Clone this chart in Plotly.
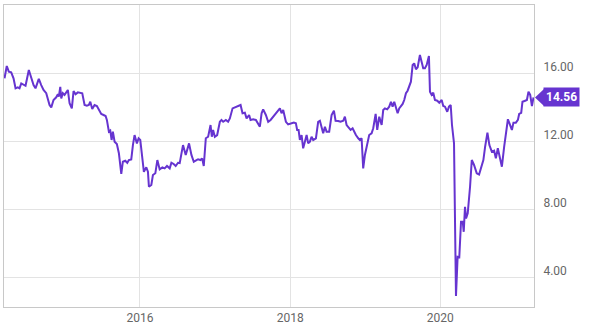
import plotly.graph_objects as go
from datetime import datetime, timedelta

# Decimal-year time stamps and values
years = [
    2014.196, 2014.226, 2014.253, 2014.285, 2014.316, 2014.343, 2014.373, 2014.396, 2014.419, 2014.449,
    2014.476, 2014.520, 2014.552, 2014.583, 2014.609, 2014.653, 2014.685, 2014.716, 2014.752, 2014.773,
    2014.796, 2014.819, 2014.849, 2014.885, 2014.907, 2014.920, 2014.939, 2014.952, 2014.973, 2014.996,
    2015.040, 2015.063, 2015.093, 2015.116, 2015.143, 2015.173, 2015.205, 2015.232, 2015.263, 2015.293,
    2015.320, 2015.339, 2015.365, 2015.396, 2015.427, 2015.453, 2015.485, 2015.516, 2015.543, 2015.560,
    2015.587, 2015.605, 2015.623, 2015.640, 2015.663, 2015.693, 2015.720, 2015.752, 2015.773, 2015.805,
    2015.832, 2015.853, 2015.885, 2015.907, 2015.929, 2015.960, 2015.983, 2016.005, 2016.032, 2016.053,
    2016.085, 2016.107, 2016.120, 2016.152, 2016.173, 2016.205, 2016.232, 2016.263, 2016.299, 2016.329,
    2016.360, 2016.396, 2016.419, 2016.449, 2016.476, 2016.507, 2016.529, 2016.552, 2016.573, 2016.609,
    2016.653, 2016.685, 2016.716, 2016.752, 2016.773, 2016.805, 2016.827, 2016.849, 2016.876, 2016.907,
    2016.939, 2016.956, 2016.973, 2016.996, 2017.027, 2017.063, 2017.085, 2017.107, 2017.143, 2017.173,
    2017.196, 2017.232, 2017.263, 2017.293, 2017.320, 2017.339, 2017.365, 2017.396, 2017.419, 2017.453,
    2017.472, 2017.507, 2017.543, 2017.573, 2017.596, 2017.619, 2017.640, 2017.676, 2017.707, 2017.739,
    2017.773, 2017.805, 2017.840, 2017.863, 2017.885, 2017.907, 2017.943, 2017.973, 2018.019, 2018.049,
    2018.076, 2018.093, 2018.112, 2018.129, 2018.152, 2018.173, 2018.196, 2018.219, 2018.240, 2018.263,
    2018.285, 2018.307, 2018.343, 2018.373, 2018.396, 2018.419, 2018.440, 2018.463, 2018.485, 2018.520,
    2018.552, 2018.583, 2018.605, 2018.640, 2018.672, 2018.707, 2018.729, 2018.752, 2018.773, 2018.805,
    2018.832, 2018.849, 2018.876, 2018.907, 2018.929, 2018.952, 2018.973, 2018.996, 2019.027, 2019.053,
    2019.085, 2019.107, 2019.139, 2019.160, 2019.187, 2019.219, 2019.240, 2019.263, 2019.293, 2019.320,
    2019.343, 2019.365, 2019.387, 2019.409, 2019.432, 2019.453, 2019.476, 2019.499, 2019.520, 2019.543,
    2019.565, 2019.587, 2019.609, 2019.632, 2019.653, 2019.676, 2019.699, 2019.729, 2019.752, 2019.773,
    2019.796, 2019.819, 2019.849, 2019.863, 2019.885, 2019.907, 2019.929, 2019.960, 2019.987, 2020.019,
    2020.040, 2020.063, 2020.093, 2020.116, 2020.139, 2020.156, 2020.183, 2020.209, 2020.231, 2020.253,
    2020.276, 2020.299, 2020.312, 2020.329, 2020.343, 2020.365, 2020.396, 2020.419, 2020.449, 2020.485,
    2020.516, 2020.543, 2020.573, 2020.596, 2020.627, 2020.653, 2020.685, 2020.716, 2020.739, 2020.765,
    2020.796, 2020.819, 2020.849, 2020.876, 2020.899, 2020.920, 2020.952, 2020.973, 2021.005, 2021.032,
    2021.049, 2021.076, 2021.093, 2021.129, 2021.152, 2021.173, 2021.196, 2021.219, 2021.240,
]
values = [
    15.69, 16.41, 16.08, 16.04, 15.69, 15.10, 15.16, 15.10, 15.39, 15.33,
    15.25, 16.18, 15.69, 15.29, 15.10, 15.65, 15.29, 15.00, 14.81, 14.51,
    14.12, 13.98, 14.41, 14.57, 14.75, 14.61, 15.19, 14.51, 14.81, 14.71,
    15.00, 14.22, 13.92, 14.94, 14.75, 14.86, 14.81, 14.81, 14.12, 14.08,
    14.12, 14.31, 13.88, 14.12, 14.06, 13.82, 13.59, 13.53, 13.47, 13.24,
    12.55, 12.61, 12.06, 12.55, 11.96, 11.82, 11.28, 10.06, 10.78, 10.84,
    10.72, 10.88, 10.92, 11.76, 12.35, 11.86, 12.16, 12.06, 10.98, 10.19,
    10.45, 10.19, 9.31, 9.41, 10.00, 10.10, 10.88, 10.33, 10.45, 10.39,
    10.53, 10.39, 10.72, 10.65, 10.53, 10.72, 10.70, 11.18, 11.76, 11.18,
    11.86, 11.18, 10.78, 10.88, 10.92, 10.88, 10.98, 10.53, 12.16, 12.25,
    12.94, 12.25, 12.65, 12.25, 12.35, 13.13, 13.24, 13.13, 13.24, 13.13,
    13.33, 13.92, 13.98, 14.02, 14.06, 14.12, 13.63, 13.66, 13.33, 13.53,
    13.24, 13.28, 13.24, 13.04, 12.84, 13.63, 13.86, 13.53, 13.13, 13.24,
    13.43, 13.66, 13.82, 13.92, 13.63, 13.82, 13.13, 12.98, 13.04, 13.08,
    13.04, 12.65, 12.65, 12.06, 12.35, 11.57, 11.96, 12.35, 11.86, 11.96,
    12.25, 12.06, 12.16, 13.13, 13.19, 12.84, 12.45, 12.84, 12.55, 12.55,
    13.53, 13.78, 13.19, 13.18, 13.13, 13.19, 13.43, 12.94, 12.84, 12.65,
    12.75, 12.55, 12.35, 12.16, 12.06, 12.16, 10.39, 11.18, 11.94, 12.35,
    12.45, 12.75, 13.59, 12.65, 13.43, 12.94, 13.82, 13.92, 13.86, 14.02,
    14.31, 14.02, 14.31, 14.02, 13.63, 13.92, 14.02, 14.18, 14.41, 14.81,
    14.96, 15.19, 15.49, 16.47, 16.57, 16.22, 16.34, 17.06, 16.57, 16.28,
    16.28, 16.47, 17.00, 14.90, 14.71, 14.84, 14.41, 14.37, 14.25, 14.41,
    14.06, 14.02, 13.72, 14.02, 14.12, 12.94, 11.86, 2.88, 5.19, 5.16,
    7.25, 7.25, 6.66, 8.13, 7.45, 7.75, 9.31, 10.88, 10.59, 10.10,
    10.03, 10.49, 10.88, 11.66, 12.49, 11.76, 11.37, 11.43, 10.98, 11.57,
    10.88, 10.49, 11.66, 12.65, 13.28, 13.04, 12.65, 13.08, 13.08, 13.24,
    13.59, 13.66, 14.31, 14.37, 14.41, 14.90, 14.71, 14.06, 14.56,
]
y_ticks = [4, 8, 12, 16]
x_tick_years = ["2016-01-01", "2018-01-01", "2020-01-01"]
x_range = ["2014-03-11", "2021-04-01"]
y_range = [2.235, 20.0]


def to_date(t):
    yr = int(t)
    start = datetime(yr, 1, 1)
    days = (datetime(yr + 1, 1, 1) - start).days
    return start + timedelta(days=(t - yr) * days)


dates = [to_date(t) for t in years]
last_val = values[-1]

PURPLE = "#6634d0"

fig = go.Figure()
fig.add_trace(go.Scatter(x=dates, y=values, mode="lines",
                         line=dict(color=PURPLE, width=2), hoverinfo="skip"))

fig.update_layout(
    width=590, height=330,
    margin=dict(l=4, r=56, t=5, b=23),
    paper_bgcolor="white", plot_bgcolor="white",
    showlegend=False,
    font=dict(family="Roboto", size=12, color="#666666"),
)
fig.update_xaxes(
    type="date", range=x_range,
    tickvals=x_tick_years, ticktext=["2016", "2018", "2020"],
    showgrid=True, gridcolor="#e3e3e3", gridwidth=1,
    showline=True, linecolor="#c8c8c8", linewidth=1, mirror=True,
    zeroline=False, ticks="",
    tickfont=dict(size=12, color="#666666"),
)
fig.update_yaxes(
    side="right", range=y_range,
    tickvals=y_ticks, tickformat=".2f",
    showgrid=True, gridcolor="#e3e3e3", gridwidth=1,
    showline=True, linecolor="#c8c8c8", linewidth=1, mirror=True,
    zeroline=False, ticks="",
    ticklabelstandoff=6, ticklabelshift=-6,
    tickfont=dict(size=12, color="#666666"),
)

# last-value flag
fig.add_shape(type="path", xref="paper", yref="y",
              xsizemode="pixel", ysizemode="pixel",
              xanchor=1, yanchor=last_val,
              path="M 1 0 L 10 8.5 L 10 -8.5 Z",
              fillcolor=PURPLE, line=dict(width=0))
fig.add_annotation(xref="paper", yref="y", x=1, y=last_val,
                   xanchor="left", yanchor="middle", xshift=9,
                   text="<b>%.2f</b>" % last_val, showarrow=False,
                   font=dict(family="Roboto", size=12, color="white"),
                   bgcolor=PURPLE, borderpad=2)

fig.write_html("out.html")
